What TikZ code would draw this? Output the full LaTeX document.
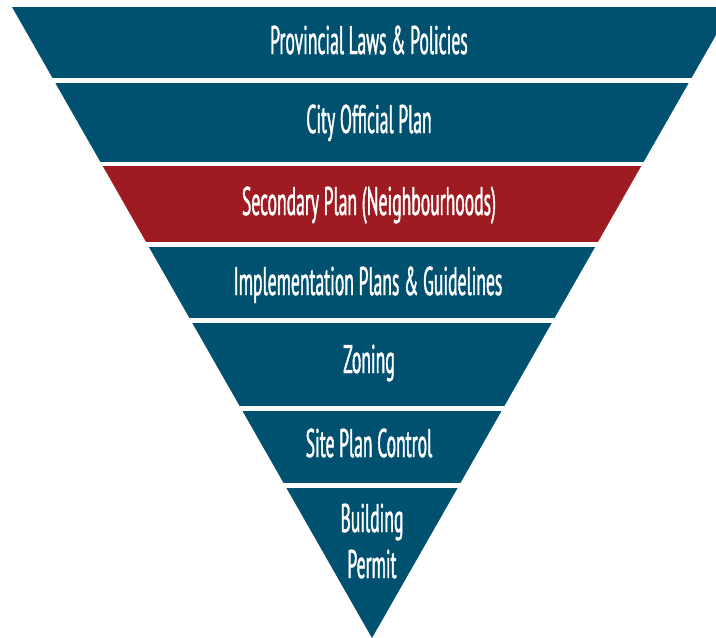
\documentclass[tikz,border=0pt]{standalone}
\usepackage{fontspec}
% condensed humanist sans for the band labels
\newfontfamily\bandfont[FakeStretch=0.44,FakeBold=1]{PT Sans}
\definecolor{bandblue}{RGB}{0,80,112}
\definecolor{bandred}{RGB}{158,27,33}
\begin{document}
\begin{tikzpicture}[x=1pt,y=-1pt,
  bandlabel/.style={text=white,font=\bandfont\fontsize{40}{48}\selectfont,
    anchor=base,inner sep=0pt}]
\useasboundingbox (0,0) rectangle (716,638);
% inverted triangle cut into horizontal bands
\begin{scope}
  \clip (12,7) -- (732,7) -- (372,638) -- cycle;
  \fill[bandblue] (0,7)   rectangle (740,78);
  \fill[bandblue] (0,83)  rectangle (740,162);
  \fill[bandred]  (0,166) rectangle (740,242);
  \fill[bandblue] (0,247) rectangle (740,318);
  \fill[bandblue] (0,323) rectangle (740,406);
  \fill[bandblue] (0,411) rectangle (740,483);
  \fill[bandblue] (0,488) rectangle (740,640);
\end{scope}
% band labels
\node[bandlabel] (provincial) at (369,54)  {Provincial Laws \& Policies};
\node[bandlabel] (official)   at (369,133) {City Official Plan};
\node[bandlabel] (secondary)  at (369,215) {Secondary Plan (Neighbourhoods)};
\node[bandlabel] (implement)  at (368,295) {Implementation Plans \& Guidelines};
\node[bandlabel] (zoning)     at (369,373) {Zoning};
\node[bandlabel] (siteplan)   at (369,457) {Site Plan Control};
\node[bandlabel] (building)   at (372,532) {Building};
\node[bandlabel] (permit)     at (372,578) {Permit};
\end{tikzpicture}
\end{document}
